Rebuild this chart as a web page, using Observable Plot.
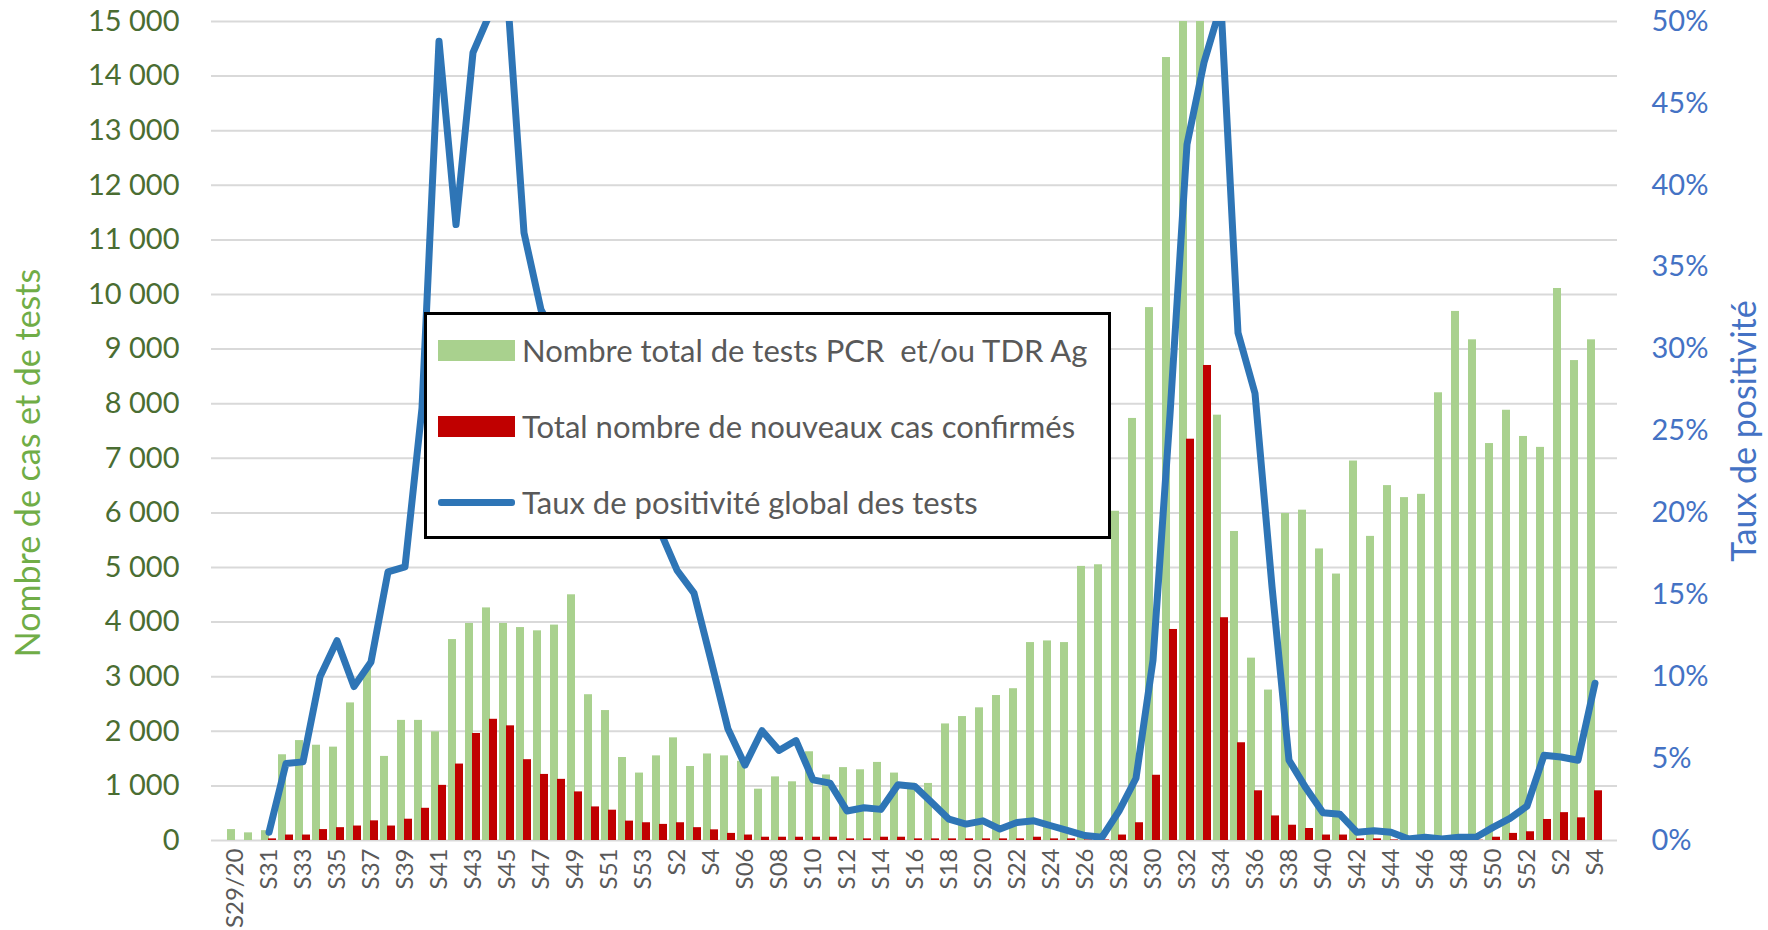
<!DOCTYPE html>
<html>
<head>
<meta charset="utf-8">
<script src="https://cdn.jsdelivr.net/npm/d3@7"></script>
<script src="https://cdn.jsdelivr.net/npm/@observablehq/plot@0.6"></script>
<style>
  html, body { margin: 0; padding: 0; background: #fff; }
  #wrap { position: relative; width: 1768px; height: 930px; font-family: Lato, sans-serif; }
  #legend { position: absolute; left: 424px; top: 312px; width: 681px; height: 221px;
            border: 3px solid #000; background: #fff; box-sizing: content-box; }
  .sw { position: absolute; left: 11px; width: 77px; }
  .lt { position: absolute; left: 95px; font-size: 31px; color: #595959; white-space: pre; line-height: 40px; }
</style>
</head>
<body>
<div id="wrap"></div>
<script>
// ---- data ----
const weeks = [
  "S29/20","S30","S31","S32","S33","S34","S35","S36","S37","S38","S39","S40","S41","S42","S43","S44","S45","S46","S47","S48","S49","S50","S51","S52","S53",
  "S1","S2","S3","S4","S5","S06","S07","S08","S09","S10","S11","S12","S13","S14","S15","S16","S17","S18","S19","S20","S21","S22","S23","S24","S25","S26","S27","S28","S29","S30","S31","S32","S33","S34","S35","S36","S37","S38","S39","S40","S41","S42","S43","S44","S45","S46","S47","S48","S49","S50","S51","S52",
  "S1","S2","S3","S4"
];
const tests = [
  200,140,180,1570,1830,1745,1710,2520,3150,1540,2200,2200,1990,3680,3975,4260,3975,3900,3840,3945,4500,2670,2380,1520,1235,
  1550,1880,1355,1585,1550,1450,940,1165,1075,1625,1200,1335,1295,1430,1235,1050,1045,2135,2270,2430,2655,2780,3625,3655,3625,5020,5050,6030,7730,9760,14340,16500,15800,7790,5660,3340,2755,5990,6050,5340,4880,6950,5570,6500,6280,6340,8200,9690,9170,7270,7880,7400,
  7200,10110,8790,9170
];
const cases = [
  0,0,30,100,100,200,235,265,360,265,390,590,1010,1400,1960,2220,2100,1480,1210,1120,890,615,555,355,325,
  295,325,235,195,130,100,60,60,60,60,60,30,30,60,60,30,30,30,30,30,30,30,60,30,30,10,10,100,325,1195,3865,7350,8700,4080,1790,910,450,280,220,100,100,30,30,10,5,5,5,5,5,60,130,160,
  385,510,415,910
];
const positivity = [
  null,null,0.5,4.7,4.8,10.0,12.2,9.4,10.9,16.4,16.7,26.4,48.8,37.6,48.1,50.5,52.0,37.1,32.4,30.5,28.5,26.0,24.0,22.0,20.5,
  18.9,16.5,15.1,11.0,6.8,4.6,6.7,5.5,6.1,3.7,3.5,1.8,2.0,1.9,3.4,3.3,2.3,1.3,1.0,1.2,0.7,1.1,1.2,0.9,0.6,0.3,0.2,1.8,3.8,11.0,26.0,42.5,47.5,51.0,31.0,27.3,15.5,4.9,3.2,1.7,1.6,0.5,0.6,0.5,0.1,0.2,0.1,0.2,0.2,0.8,1.35,2.1,
  5.2,5.1,4.9,9.6
];
const leftTicks = [0,1000,2000,3000,4000,5000,6000,7000,8000,9000,10000,11000,12000,13000,14000,15000];
const rightTicks = [0,5,10,15,20,25,30,35,40,45,50];   // % ; 50 % == 15 000
const leftMax = 15000, rightMax = 50;
const legendItems = [
  {label: "Nombre total de tests PCR  et/ou TDR Ag", kind: "bar", color: "#A9D18E"},
  {label: "Total nombre de nouveaux cas confirmés", kind: "bar", color: "#C00000"},
  {label: "Taux de positivité global des tests", kind: "line", color: "#2E75B6"}
];

// ---- build ----
const ratio = leftMax / rightMax;
const data = weeks.map((w, i) => ({i, w, tests: tests[i], cases: cases[i], pos: positivity[i]}));
const lineData = data.filter(d => d.pos != null);
const fr = d3.formatLocale({decimal: ",", thousands: " ", grouping: [3], currency: ["", " €"]}).format(",");

const chart = Plot.plot({
  width: 1768,
  height: 930,
  marginTop: 21,
  marginBottom: 90,
  marginLeft: 211,
  marginRight: 151,
  style: {fontFamily: "Lato, sans-serif", background: "#fff", overflow: "visible"},
  x: {type: "band", domain: data.map(d => d.i), paddingInner: 0.13, paddingOuter: 0.065, axis: null},
  y: {domain: [0, leftMax], axis: null},
  marks: [
    Plot.gridY(leftTicks, {stroke: "#D9D9D9", strokeOpacity: 1, strokeWidth: 2}),
    Plot.barY(data, {x: "i", y: "tests", fill: "#A9D18E", insetRight: 7, clip: true}),
    Plot.barY(data, {x: "i", y: "cases", fill: "#C00000", insetLeft: 7, clip: true}),
    Plot.line(lineData, {x: "i", y: d => d.pos * ratio, stroke: "#2E75B6", strokeWidth: 7,
      strokeLinejoin: "round", strokeLinecap: "round", clip: true}),
    Plot.axisY({anchor: "left", ticks: leftTicks, tickFormat: fr, tickSize: 0, tickPadding: 32,
      fontSize: 29, color: "#4A6D32", label: null}),
    Plot.axisY({anchor: "right", ticks: rightTicks.map(t => t * ratio), tickFormat: v => Math.round(v / ratio) + "%",
      tickSize: 0, tickPadding: 34, fontSize: 29, color: "#4472C4", label: null}),
    Plot.axisX({ticks: data.filter(d => d.i % 2 === 0).map(d => d.i), tickFormat: i => weeks[i],
      tickRotate: -90, tickSize: 0, tickPadding: 8, fontSize: 24, color: "#595959", label: null}),
    Plot.text(["Nombre de cas et de tests"], {frameAnchor: "left", textAnchor: "middle", rotate: -90, dx: -182, dy: 32,
      fontSize: 34, fill: "#70AD47"}),
    Plot.text(["Taux de positivité"], {frameAnchor: "right", textAnchor: "middle", rotate: -90, dx: 128, dy: 0,
      fontSize: 34, fill: "#4472C4"})
  ]
});

const wrap = document.getElementById("wrap");
wrap.appendChild(chart);

// legend box overlaid inside the plot area (as in the reference)
const lg = document.createElement("div");
lg.id = "legend";
const rowTops = [35, 111, 187];
legendItems.forEach((it, k) => {
  const sw = document.createElement("div");
  sw.className = "sw";
  if (it.kind === "bar") {
    sw.style.top = (rowTops[k] - 10) + "px";
    sw.style.height = "21px";
    sw.style.background = it.color;
  } else {
    sw.style.top = (rowTops[k] - 3) + "px";
    sw.style.height = "7px";
    sw.style.background = it.color;
    sw.style.borderRadius = "3px";
  }
  lg.appendChild(sw);
  const t = document.createElement("div");
  t.className = "lt";
  t.style.top = (rowTops[k] - 20) + "px";
  t.textContent = it.label;
  lg.appendChild(t);
});
wrap.appendChild(lg);
</script>
</body>
</html>
